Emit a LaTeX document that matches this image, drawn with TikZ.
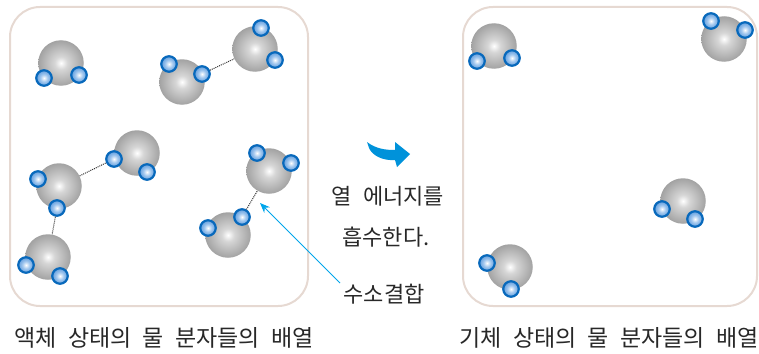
\documentclass[tikz,border=0pt]{standalone}
\usepackage{fontspec}
\setmainfont{Noto Sans CJK KR}[WordSpace=2.2]
\usetikzlibrary{arrows.meta}

\definecolor{hlight}{RGB}{160,198,238}
\definecolor{hmid}{RGB}{55,130,210}
\definecolor{hring}{RGB}{8,105,188}
\definecolor{boxline}{RGB}{230,217,210}
\definecolor{pointer}{RGB}{0,165,235}
\definecolor{swoosh}{RGB}{0,146,218}
\definecolor{txt}{RGB}{40,40,40}

% Shadings for the oxygen and hydrogen spheres
\pgfdeclareradialshading{oxyshade}{\pgfpoint{0bp}{0bp}}{%
  color(0bp)=(white); color(7bp)=(black!16); color(30bp)=(black!42); color(50bp)=(black!60)}
\pgfdeclareradialshading{hydshade}{\pgfpoint{0bp}{0bp}}{%
  color(0bp)=(white); color(12bp)=(hlight); color(34bp)=(hmid); color(50bp)=(hmid)}

\tikzset{
  oxy/.style={circle, minimum size=45.5pt, inner sep=0pt, shading=oxyshade},
  hyd/.style={circle, minimum size=15.5pt, inner sep=0pt, shading=hydshade, draw=hring, line width=2.2pt},
  hbond/.style={densely dotted, line width=1pt, black!80},
  panel/.style={draw=boxline, line width=2pt, rounded corners=30pt},
  label/.style={text=txt, font=\fontsize{22}{26}\selectfont, inner sep=0pt},
  caption/.style={label, font=\fontsize{23}{27}\selectfont}
}

\begin{document}
\begin{tikzpicture}[x=1pt, y=-1pt]
\useasboundingbox (0,0) rectangle (759,353);

% panels
\draw[panel] (10,7) rectangle (308,306);
\draw[panel] (463,7) rectangle (757,306);

% ---- liquid state ----
\node[oxy] (o1) at (61,63) {};
\node[hyd] (h1a) at (44,78) {};
\node[hyd] (h1b) at (79,75) {};

\node[oxy] (o2) at (182,82) {};
\node[hyd] (h2a) at (169,64) {};
\node[hyd] (h2b) at (202,74) {};

\node[oxy] (o3) at (255,49) {};
\node[hyd] (h3a) at (261,28) {};
\node[hyd] (h3b) at (275,60) {};

\node[oxy] (o4) at (137,153) {};
\node[hyd] (h4a) at (114,159) {};
\node[hyd] (h4b) at (147,172) {};

\node[oxy] (o5) at (59,186) {};
\node[hyd] (h5a) at (38,179) {};
\node[hyd] (h5b) at (57,208) {};

\node[oxy] (o6) at (48,257) {};
\node[hyd] (h6a) at (26,265) {};
\node[hyd] (h6b) at (60,276) {};

\node[oxy] (o7) at (269,171) {};
\node[hyd] (h7a) at (257,153) {};
\node[hyd] (h7b) at (291,163) {};

\node[oxy] (o8) at (228,235) {};
\node[hyd] (h8a) at (208,228) {};
\node[hyd] (h8b) at (242,217) {};

% hydrogen bonds
\draw[hbond] (h2b) -- (o3);
\draw[hbond] (o5) -- (h4a);
\draw[hbond] (h5b) -- (o6);
\draw[hbond] (h8b) -- (o7);

% ---- gas state ----
\node[oxy] (g1) at (494,46) {};
\node[hyd] (g1a) at (477,61) {};
\node[hyd] (g1b) at (512,58) {};

\node[oxy] (g2) at (724,39) {};
\node[hyd] (g2a) at (711,21) {};
\node[hyd] (g2b) at (745,30) {};

\node[oxy] (g3) at (683,201) {};
\node[hyd] (g3a) at (662,209) {};
\node[hyd] (g3b) at (695,219) {};

\node[oxy] (g4) at (510,267) {};
\node[hyd] (g4a) at (487,263) {};
\node[hyd] (g4b) at (511,289) {};

% middle: heat absorption
\fill[swoosh] (367,142) .. controls (376,149) and (386,150) .. (395,150)
  -- (395,142) -- (410,154) -- (397,167) -- (395,160)
  .. controls (382,161) and (372,155) .. (369,148) -- cycle;
\node[label] (heat1) at (388,196.5) {열 에너지를};
\node[label] (heat2) at (386,237) {흡수한다.};

% hydrogen-bond label and pointer
\node[label] (hb) at (384,294) {수소결합};
\coordinate (hbfoot) at (340,283);
\coordinate (hbtip) at (260,203);
\draw[pointer, line width=0.9pt, -{Stealth[length=10pt, width=8pt]}] (hbfoot) -- (hbtip);

% captions
\node[caption] (cap1) at (164,338) {액체 상태의 물 분자들의 배열};
\node[caption] (cap2) at (609,338) {기체 상태의 물 분자들의 배열};
\end{tikzpicture}
\end{document}
